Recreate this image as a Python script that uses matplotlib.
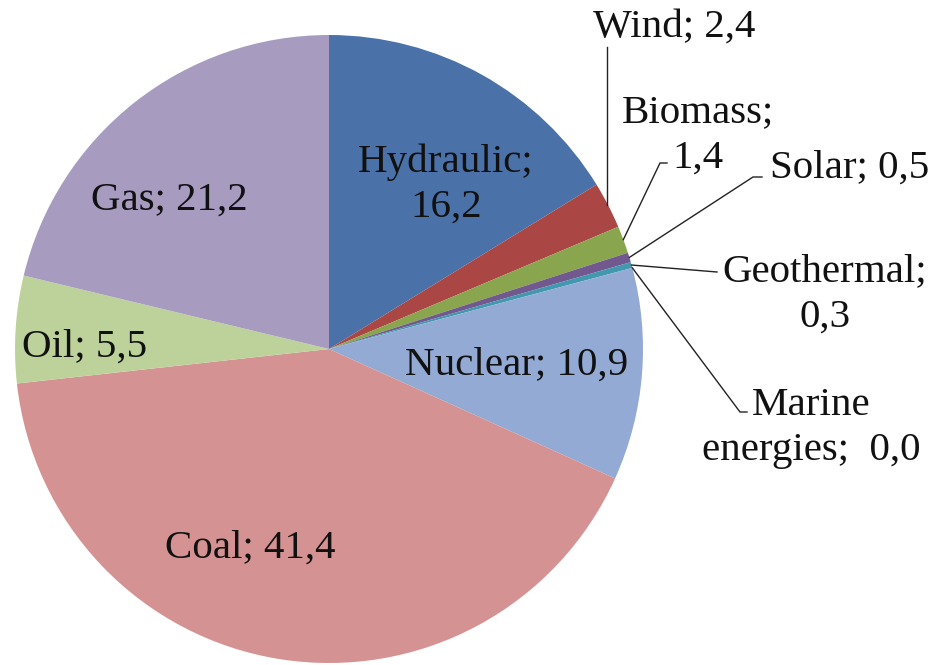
import numpy as np
import matplotlib
matplotlib.use("Agg")
import matplotlib.pyplot as plt

# data (share of electricity generation, %)
labels = ["Hydraulic", "Wind", "Biomass", "Solar", "Geothermal",
          "Marine energies", "Nuclear", "Coal", "Oil", "Gas"]
values = [16.2, 2.4, 1.4, 0.5, 0.3, 0.0, 10.9, 41.4, 5.5, 21.2]
colors = ["#4A72A8", "#AA4643", "#89A54E", "#71588F", "#4198AF",
          "#DB843D", "#93AAD4", "#D49392", "#BDD29A", "#A79BC0"]

# label texts as shown on the chart (decimal comma)
texts = ["Hydraulic;\n16,2", "Wind; 2,4", "Biomass;\n1,4", "Solar; 0,5",
         "Geothermal;\n0,3", "Marine\nenergies;  0,0", "Nuclear; 10,9",
         "Coal; 41,4", "Oil; 5,5", "Gas; 21,2"]

W, H = 933, 665
CX, CY, R = 329, H - 349, 314

plt.rcParams["font.family"] = ["Liberation Serif", "DejaVu Serif"]

fig = plt.figure(figsize=(W / 100, H / 100), dpi=100)
ax = fig.add_axes([0, 0, 1, 1])
wedges, _ = ax.pie(values, colors=colors, startangle=90, counterclock=False,
                   center=(CX, CY), radius=R,
                   wedgeprops=dict(linewidth=0))
ax.set_xlim(0, W)
ax.set_ylim(0, H)
ax.set_aspect("equal")
ax.axis("off")

fs = 29.5
ls = 1.3

# labels inside the slices (pixel positions: center x, last-line baseline y from top)
inside = {0: (446, 217), 6: (517, 375), 7: (250, 558), 8: (85, 357), 9: (169, 210)}
for i, (x, y) in inside.items():
    ax.text(x, H - y, texts[i], fontsize=fs, ha="center", va="baseline",
            linespacing=ls, color="#111111")

# outside labels with leader lines: (text pos, leader end points)
outside = {
    1: ((674, 37), [(607, 47)]),
    2: ((698, 168), [(660, 163), (667, 163)]),
    3: ((850, 178), [(753, 177), (762, 177)]),
    4: ((825, 327), [(717, 272)]),
    5: ((811, 460), [(740, 412), (747, 412)]),
}
for i, (tpos, pts) in outside.items():
    w = wedges[i]
    mid = np.deg2rad((w.theta1 + w.theta2) / 2)
    x0 = CX + R * np.cos(mid)
    y0 = CY + R * np.sin(mid)
    xs = [x0] + [p[0] for p in pts]
    ys = [y0] + [H - p[1] for p in pts]
    if i == 1:
        xs = [xs[1], xs[1]]
        ys = [y0, ys[1]]
    ax.plot(xs, ys, color="#222222", lw=1)
    ax.text(tpos[0], H - tpos[1], texts[i], fontsize=fs, ha="center",
            va="baseline", linespacing=ls, color="#111111")

fig.savefig("out.png", dpi=100)
